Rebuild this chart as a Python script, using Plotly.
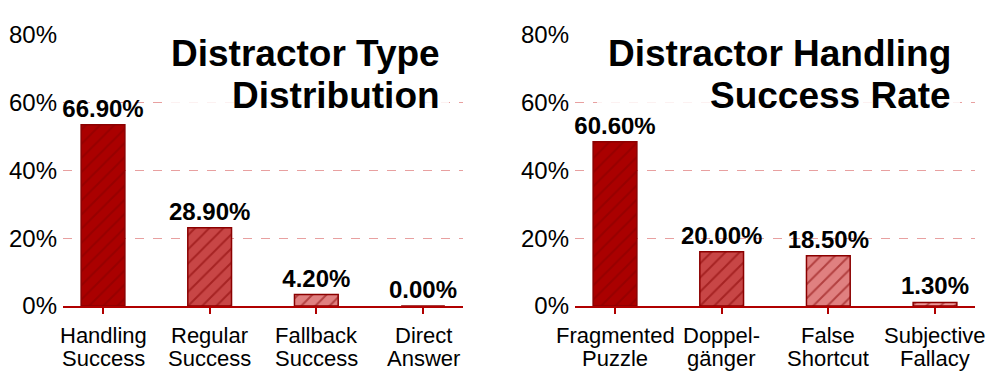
import plotly.graph_objects as go

# left panel
type_labels = ["Handling\nSuccess", "Regular\nSuccess", "Fallback\nSuccess", "Direct\nAnswer"]
type_values = [66.90, 28.90, 4.20, 0.00]

# right panel
handling_labels = ["Fragmented\nPuzzle", "Doppel-\ngänger", "False\nShortcut", "Subjective\nFallacy"]
handling_values = [60.60, 20.00, 18.50, 1.30]

tick_vals = [0, 25, 50, 75, 100]
tick_text = ["0%", "20%", "40%", "60%", "80%"]

titles = [["Distractor Type", "Distribution"], ["Distractor Handling", "Success Rate"]]

fills = ["#aa0000", "#c84646", "#e08080", "#ee9a9a"]
edge = "#8b0000"
FONT = "Liberation Sans, Arial, sans-serif"

# the page body adds an 8px margin, so the figure is a bit smaller than the window
PAD = 8
W, H = 996 - 2 * PAD, 380 - 2 * PAD


def px(x):
    return (x - PAD) / W


def py(y):
    return 1 - (y - PAD) / H


fig = go.Figure()

panels = [(type_labels, type_values), (handling_labels, handling_values)]
for i, (labels, values) in enumerate(panels):
    xa, ya = ("x", "y") if i == 0 else ("x2", "y2")
    for j, (lab, v) in enumerate(zip(labels, values)):
        fig.add_trace(go.Bar(
            x=[j], y=[v], xaxis=xa, yaxis=ya, width=0.41,
            marker=dict(color=fills[j], line=dict(color=edge, width=1.5),
                        pattern=dict(shape="/", fillmode="overlay", fgcolor="#840000",
                                     size=10, solidity=0.2)),
            text=[f"{v:.2f}%"], textposition="outside", constraintext="none",
            textfont=dict(family=FONT, size=24, color="black", weight="bold"),
            cliponaxis=False, showlegend=False,
        ))
        # two-line category label under each bar
        for k, line in enumerate(lab.split("\n")):
            fig.add_annotation(text=line, xref=xa, yref="paper", x=j, y=py(335 + 23 * k),
                               xanchor="center", yanchor="middle", showarrow=False,
                               font=dict(family=FONT, size=22, color="black"))

ydom = [py(306), py(35)]
xdoms = [[px(63), px(463)], [px(575), px(975)]]

axis_x = dict(range=[-0.375, 3.375], showgrid=False, showline=True, linecolor="#b00000",
              linewidth=2, ticks="outside", ticklen=6, tickwidth=2, tickcolor="#b00000",
              tickvals=[0, 1, 2, 3], showticklabels=False, automargin=False, zeroline=False)
axis_y = dict(range=[0, 100], autorange=False, tickvals=tick_vals, ticktext=tick_text,
              showgrid=True, gridcolor="#e8a0a0", griddash="dash", gridwidth=1,
              zeroline=False, showline=False, ticks="", ticklabelstandoff=5, automargin=False,
              tickfont=dict(family=FONT, size=24, color="black"), domain=ydom)

fig.update_layout(
    width=W, height=H, margin=dict(l=0, r=0, t=0, b=0, autoexpand=False),
    plot_bgcolor="white", paper_bgcolor="white", barmode="overlay",
    xaxis=dict(axis_x, domain=xdoms[0], anchor="y"),
    xaxis2=dict(axis_x, domain=xdoms[1], anchor="y2"),
    yaxis=dict(axis_y, anchor="x"),
    yaxis2=dict(axis_y, anchor="x2"),
)

# panel titles: translucent white box, right aligned bold text
boxes = [(162, 449), (597, 960)]
for (x0, x1), lines in zip(boxes, titles):
    fig.add_shape(type="rect", xref="paper", yref="paper", x0=px(x0), x1=px(x1),
                  y0=py(118), y1=py(28), fillcolor="rgba(255,255,255,0.85)",
                  line=dict(width=0), layer="above")
    for k, line in enumerate(lines):
        fig.add_annotation(text=f"<b>{line}</b>", xref="paper", yref="paper",
                           x=px(x1 - 7), y=py(53 + 42 * k), xanchor="right", yanchor="middle",
                           showarrow=False, font=dict(family=FONT, size=37, color="black"))

fig.write_html("out.html")
